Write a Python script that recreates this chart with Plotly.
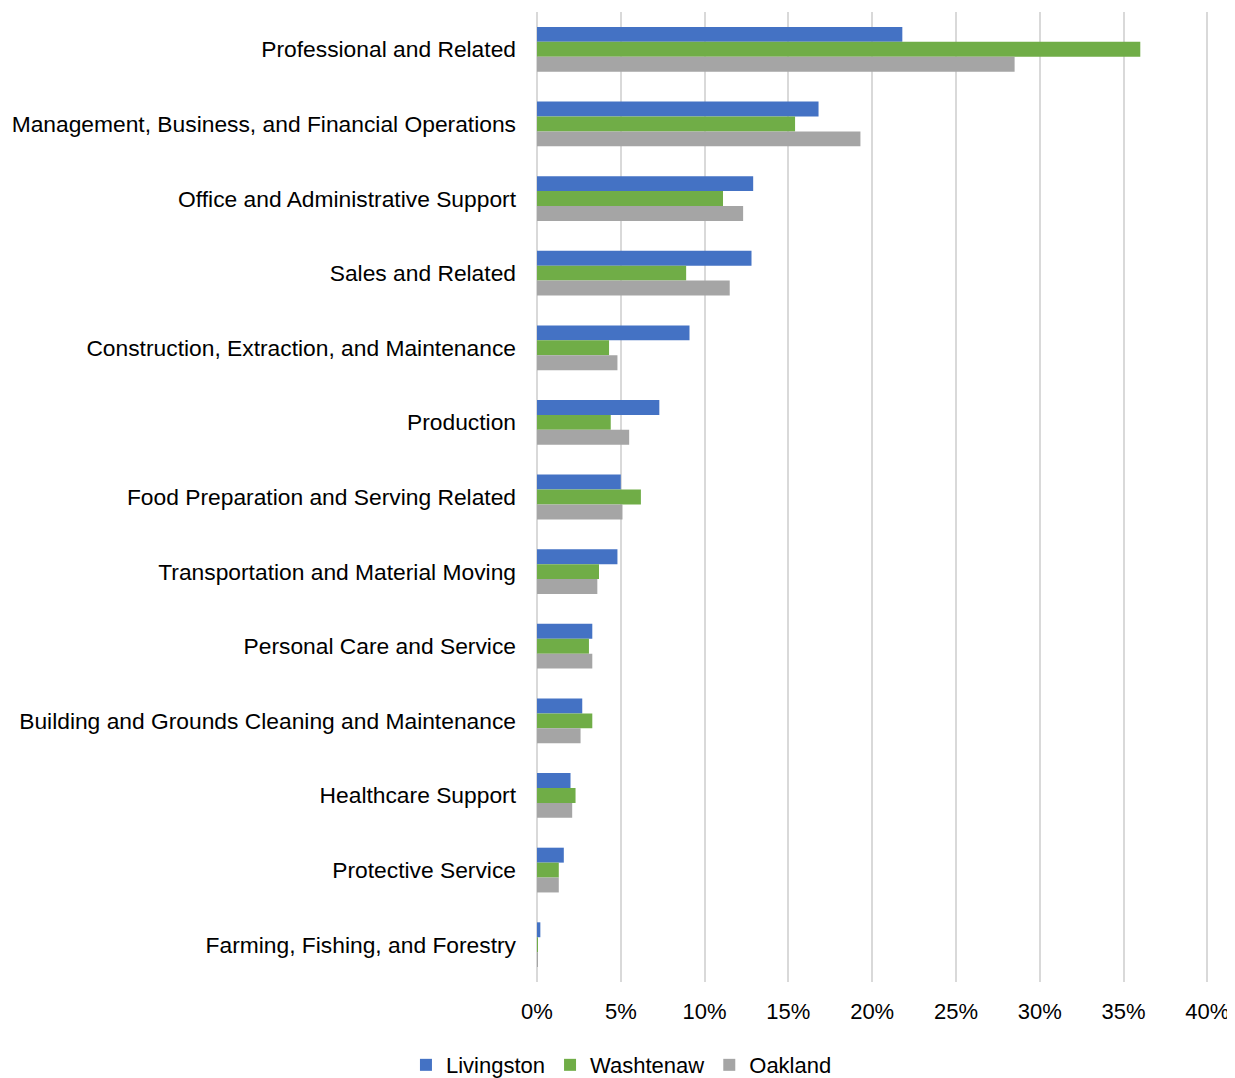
import plotly.graph_objects as go

categories = [
    "Professional and Related",
    "Management, Business, and Financial Operations",
    "Office and Administrative Support",
    "Sales and Related",
    "Construction, Extraction, and Maintenance",
    "Production",
    "Food Preparation and Serving Related",
    "Transportation and Material Moving",
    "Personal Care and Service",
    "Building and Grounds Cleaning and Maintenance",
    "Healthcare Support",
    "Protective Service",
    "Farming, Fishing, and Forestry",
]
livingston = [0.218, 0.168, 0.129, 0.128, 0.091, 0.073, 0.050, 0.048, 0.033, 0.027, 0.020, 0.016, 0.002]
washtenaw = [0.360, 0.154, 0.111, 0.089, 0.043, 0.044, 0.062, 0.037, 0.031, 0.033, 0.023, 0.013, 0.0005]
oakland = [0.285, 0.193, 0.123, 0.115, 0.048, 0.055, 0.051, 0.036, 0.033, 0.026, 0.021, 0.013, 0.0005]
x_ticks = [0, 0.05, 0.10, 0.15, 0.20, 0.25, 0.30, 0.35, 0.40]

series = [
    ("Livingston", livingston, "#4472C4"),
    ("Washtenaw", washtenaw, "#70AD47"),
    ("Oakland", oakland, "#A5A5A5"),
]

fig = go.Figure()
for name, vals, color in series:
    fig.add_trace(go.Bar(
        y=categories, x=vals, name=name, orientation="h",
        marker=dict(color=color, line=dict(width=0)),
    ))

font_family = "Liberation Sans, Arial, sans-serif"
fig.update_layout(
    width=1227, height=1070,
    margin=dict(l=529, r=26, t=4, b=96, autoexpand=False),
    barmode="group", bargap=0.4, bargroupgap=0,
    plot_bgcolor="white", paper_bgcolor="white",
    font=dict(family=font_family, size=22, color="#000000"),
    legend=dict(orientation="h", x=-0.195, xanchor="left", y=-0.0856, yanchor="middle",
                font=dict(size=22), itemwidth=30, traceorder="normal",
                tracegroupgap=0),
    showlegend=True,
)
fig.update_xaxes(
    range=[0, 0.401], tickvals=x_ticks, tickformat=".0%",
    showgrid=True, gridcolor="#D9D9D9", gridwidth=1.5,
    zeroline=True, zerolinecolor="#D9D9D9", zerolinewidth=1.5,
    showline=False, ticks="", ticklabelstandoff=14, automargin=False,
    ticklabeloverflow="allow", tickfont=dict(size=22),
)
fig.update_yaxes(
    autorange="reversed", showgrid=False, showline=False, ticks="",
    ticklabelstandoff=20, automargin=False, tickfont=dict(size=22.8),
)
fig.write_html("out.html")
